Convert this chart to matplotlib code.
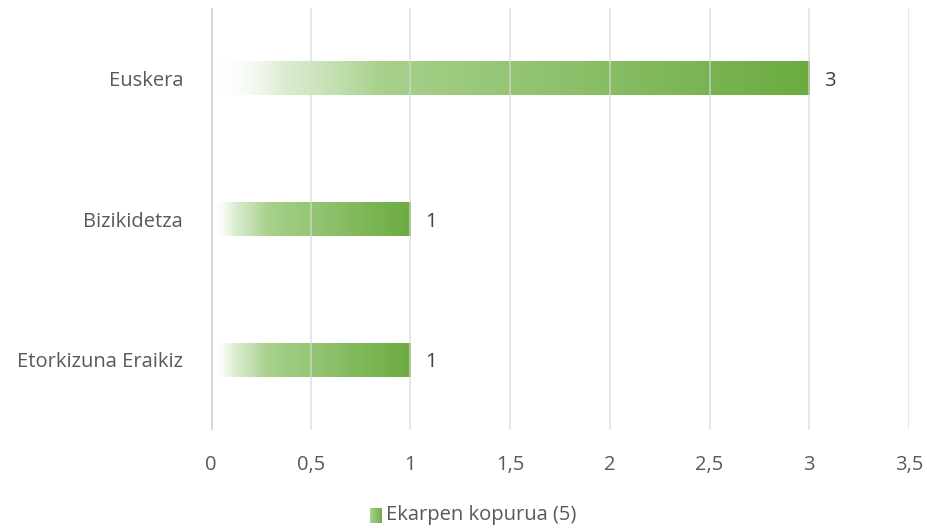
import numpy as np
import matplotlib.pyplot as plt
from matplotlib.colors import LinearSegmentedColormap

# Datuak
categories = ["Euskera", "Bizikidetza", "Etorkizuna Eraikiz"]
values = [3, 1, 1]
series_name = "Ekarpen kopurua (5)"
xticks = [0, 0.5, 1, 1.5, 2, 2.5, 3, 3.5]
xtick_labels = ["0", "0,5", "1", "1,5", "2", "2,5", "3", "3,5"]

plt.rcParams['font.family'] = ['Open Sans', 'DejaVu Sans']
fs = 14.5

# gradientea: zuria/gardena ezkerrean -> berdea eskuinean
grad = LinearSegmentedColormap.from_list(
    "grad", [(0.0, (1, 1, 1, 0.0)), (0.12, (0.80, 0.90, 0.74, 0.7)),
             (0.28, (0.66, 0.82, 0.55, 1.0)), (1.0, (0.42, 0.67, 0.25, 1.0))])

fig = plt.figure(figsize=(9.27, 5.28), dpi=100)
ax = fig.add_axes([0.2276, 0.1856, 0.753, 0.799])

ypos = np.arange(len(categories))[::-1]
bar_h = 0.24
g = np.linspace(0, 1, 256).reshape(1, -1)
for y, v in zip(ypos, values):
    ax.imshow(g, extent=[0, v, y - bar_h / 2, y + bar_h / 2], aspect='auto',
              cmap=grad, interpolation='bilinear', zorder=2)
    ax.text(v + 0.075, y, str(v), va='center_baseline', ha='left', fontsize=fs, color='#404040')

ax.set_xlim(0, 3.5)
ax.set_ylim(-0.5, len(categories) - 0.5)
ax.set_xticks(xticks)
ax.set_xticklabels(xtick_labels, fontsize=fs, color='#595959')
ax.set_yticks(ypos)
ax.set_yticklabels(categories, fontsize=fs, color='#595959')
ax.tick_params(length=0, pad=18, axis='x')
ax.tick_params(length=0, pad=20, axis='y')

for x in xticks[1:]:
    ax.axvline(x, color='#d9d9d9', lw=1.1, zorder=3, alpha=0.8)
ax.axvline(0, color='#d9d9d9', lw=2.2, zorder=3)
for s in ax.spines.values():
    s.set_visible(False)

# legenda eskuz
lax = fig.add_axes([370 / 927, 1 - 523 / 528, 12 / 927, 15 / 528])
lax.imshow(g, aspect='auto', cmap=LinearSegmentedColormap.from_list(
    "lg", ["#a9d18e", "#70ad47"]), extent=[0, 1, 0, 1])
lax.axis('off')
fig.text(386 / 927, 1 - 515 / 528, series_name, fontsize=fs, color='#595959', va='center', ha='left')

fig.savefig("out.png", dpi=100)
